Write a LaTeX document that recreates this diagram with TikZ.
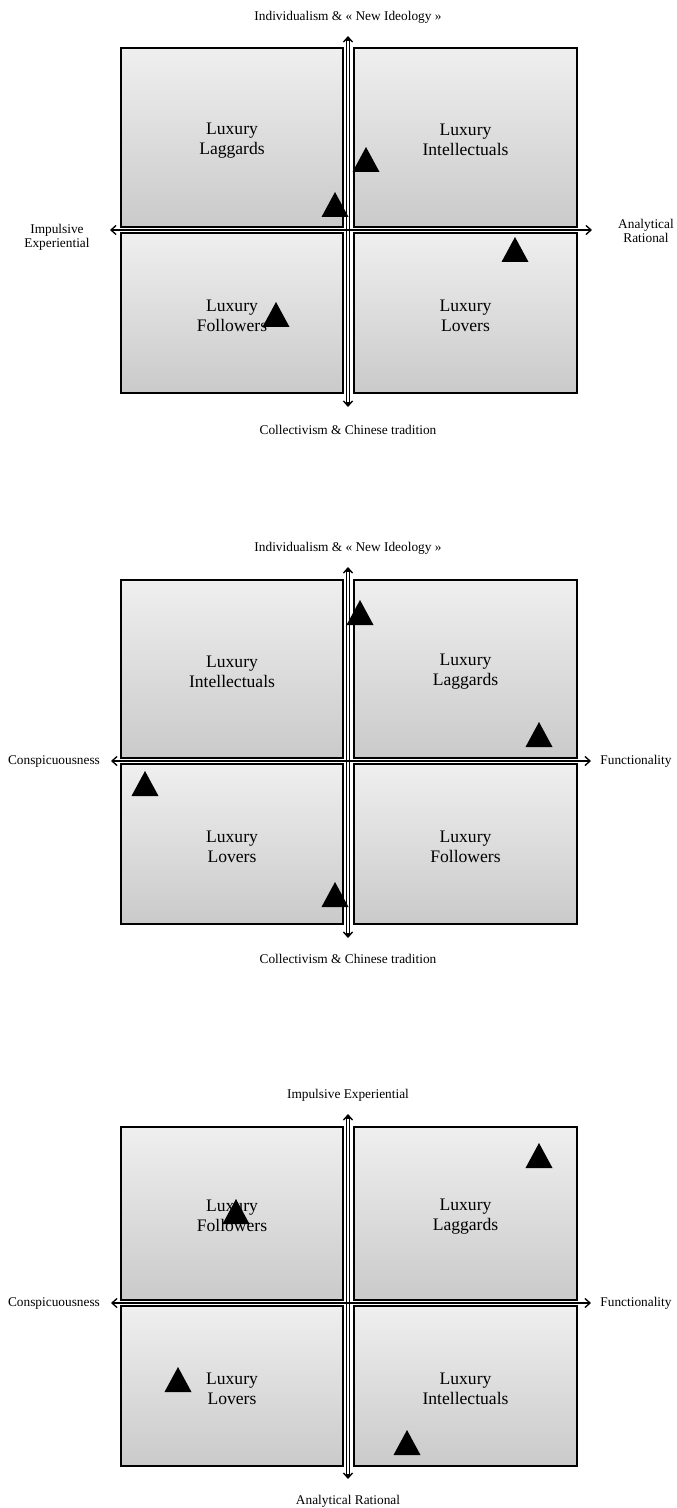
\documentclass[tikz,border=0pt]{standalone}
\usepackage{fontspec}
\setmainfont{Liberation Serif}
\usetikzlibrary{arrows.meta,fit}
\definecolor{quadtop}{RGB}{239,239,239}
\definecolor{quadbottom}{RGB}{202,202,202}
\tikzset{
  x=0.75pt, y=-0.75pt,
  quad/.style={draw=black, line width=1pt, top color=quadtop, bottom color=quadbottom, inner sep=0pt},
  quadtext/.style={inner sep=0pt, align=center, font=\fontsize{13.2}{15}\selectfont},
  axislabel/.style={inner sep=0pt, align=center, font=\fontsize{10}{10.7}\selectfont},
  tipline/.style={line width=1pt, {Straight Barb[length=3.8pt,width=6.8pt]}-{Straight Barb[length=3.8pt,width=6.8pt]}},
  vband/.style={line width=3.3pt, shorten <=2pt, shorten >=2pt},
  vcore/.style={white, line width=1.5pt, shorten <=4pt, shorten >=4pt},
  hband/.style={line width=2pt, shorten <=2pt, shorten >=2pt},
  tri/.pic={\fill[black] (-13.5,0) -- (0,-25) -- (13.5,0) -- cycle;}
}
% caption of a quadrant, set slightly below the quadrant's centre
\newcommand\quadcaption[2]{\node[quadtext] (#1t) at ([yshift=-2pt]#1.center) {#2};}
\begin{document}
\begin{tikzpicture}
\useasboundingbox (0,0) rectangle (676,1508);

% ---------- first map ----------
\node[quad, fit={(121,48) (343,227)}]  (a1) {};
\node[quad, fit={(354,48) (577,227)}]  (a2) {};
\node[quad, fit={(121,233) (343,393)}] (a3) {};
\node[quad, fit={(354,233) (577,393)}] (a4) {};
\quadcaption{a1}{Luxury\\Laggards}
\quadcaption{a2}{Luxury\\Intellectuals}
\quadcaption{a3}{Luxury\\Followers}
\quadcaption{a4}{Luxury\\Lovers}
\node[axislabel] (aN) at (348,17)  {Individualism \& « New Ideology »};
\node[axislabel] (aS) at (348,430) {Collectivism \& Chinese tradition};
\node[axislabel] (aW) at (57,237)  {Impulsive\\Experiential};
\node[axislabel] (aE) at (646,231) {Analytical\\Rational};
\coordinate (aVt) at (348,36);  \coordinate (aVb) at (348,407);
\coordinate (aHl) at (110,230); \coordinate (aHr) at (592,230);
\draw[vband] (aVt) -- (aVb);
\draw[tipline] (aVt) -- (aVb);
\draw[vcore] (aVt) -- (aVb);
\draw[tipline] (aHl) -- (aHr);
\draw[hband] (aHl) -- (aHr);
\pic at (366,172) {tri};
\pic at (335,217) {tri};
\pic at (515,262) {tri};
\pic at (276,327) {tri};

% ---------- second map ----------
\node[quad, fit={(121,580) (343,758)}] (b1) {};
\node[quad, fit={(354,580) (577,758)}] (b2) {};
\node[quad, fit={(121,764) (343,924)}] (b3) {};
\node[quad, fit={(354,764) (577,924)}] (b4) {};
\quadcaption{b1}{Luxury\\Intellectuals}
\quadcaption{b2}{Luxury\\Laggards}
\quadcaption{b3}{Luxury\\Lovers}
\quadcaption{b4}{Luxury\\Followers}
\node[axislabel] (bN) at (348,548) {Individualism \& « New Ideology »};
\node[axislabel] (bS) at (348,959) {Collectivism \& Chinese tradition};
\node[axislabel] (bW) at (54,761)  {Conspicuousness};
\node[axislabel] (bE) at (636,761) {Functionality};
\coordinate (bVt) at (348,567); \coordinate (bVb) at (348,938);
\coordinate (bHl) at (111,761); \coordinate (bHr) at (591,761);
\draw[vband] (bVt) -- (bVb);
\draw[tipline] (bVt) -- (bVb);
\draw[vcore] (bVt) -- (bVb);
\draw[tipline] (bHl) -- (bHr);
\draw[hband] (bHl) -- (bHr);
\pic at (360,625) {tri};
\pic at (539,747) {tri};
\pic at (145,796) {tri};
\pic at (335,907) {tri};

% ---------- third map ----------
\node[quad, fit={(121,1127) (343,1300)}] (c1) {};
\node[quad, fit={(354,1127) (577,1300)}] (c2) {};
\node[quad, fit={(121,1306) (343,1466)}] (c3) {};
\node[quad, fit={(354,1306) (577,1466)}] (c4) {};
\quadcaption{c1}{Luxury\\Followers}
\quadcaption{c2}{Luxury\\Laggards}
\quadcaption{c3}{Luxury\\Lovers}
\quadcaption{c4}{Luxury\\Intellectuals}
\node[axislabel] (cN) at (348,1095) {Impulsive Experiential};
\node[axislabel] (cS) at (348,1501) {Analytical Rational};
\node[axislabel] (cW) at (54,1303)  {Conspicuousness};
\node[axislabel] (cE) at (636,1303) {Functionality};
\coordinate (cVt) at (348,1114); \coordinate (cVb) at (348,1479);
\coordinate (cHl) at (111,1303); \coordinate (cHr) at (591,1303);
\draw[vband] (cVt) -- (cVb);
\draw[tipline] (cVt) -- (cVb);
\draw[vcore] (cVt) -- (cVb);
\draw[tipline] (cHl) -- (cHr);
\draw[hband] (cHl) -- (cHr);
\pic at (539,1168) {tri};
\pic at (236,1224) {tri};
\pic at (178,1392) {tri};
\pic at (407,1455) {tri};
\end{tikzpicture}
\end{document}
